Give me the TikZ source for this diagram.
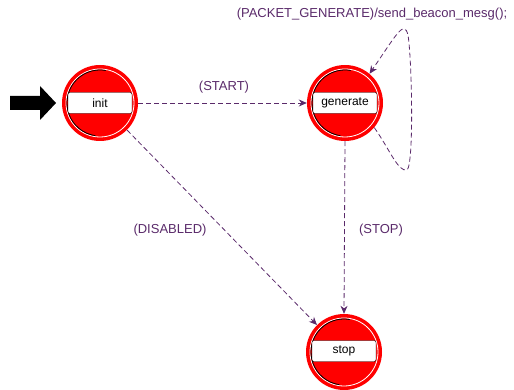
\documentclass[tikz,border=0pt]{standalone}
\usepackage{fontspec}
\setmainfont{Liberation Sans}
\usetikzlibrary{arrows.meta}
\definecolor{trpurple}{HTML}{5A2A6A}
\definecolor{stred}{HTML}{FF0000}
\tikzset{
  x=1pt,y=-1pt,
  statecirc/.style={circle,fill=stred,minimum size=76pt,inner sep=0pt},
  statebox/.style={draw=black,fill=white,rounded corners=2pt,minimum width=64pt,minimum height=21pt,inner sep=0pt,font=\fontsize{12}{13}\selectfont},
  trans/.style={draw=trpurple,dashed,dash pattern=on 5pt off 3pt,line width=0.8pt,-{Stealth[length=8pt,width=7pt]}},
  translabel/.style={text=trpurple,font=\fontsize{13}{15}\selectfont,inner sep=1pt}
}
\newcommand{\statedeco}[1]{%
  \draw[white,line width=0.8pt] (#1) circle[radius=34pt];
  \draw[black,line width=0.8pt] (#1)++(80:33pt) arc[start angle=80,end angle=262,radius=33pt];
}
\begin{document}
\begin{tikzpicture}
\useasboundingbox (0,0) rectangle (514,390);
\node[statecirc] (init) at (100,103) {};
\node[statecirc] (gen) at (345,103) {};
\node[statecirc] (stop) at (344,352) {};
\statedeco{init}
\statedeco{gen}
\statedeco{stop}
\node[statebox] (initl) at (100,103) {init};
\node[statebox] (genl) at (345,103) {generate};
\node[statebox] (stopl) at (344,351) {stop};
% initial arrow
\fill[black] (10,96) -- (40,96) -- (40,86) -- (56,103) -- (40,120) -- (40,110) -- (10,110) -- cycle;
% transitions
\draw[trans] (init.east) -- (gen.west);
\draw[trans] (init.-45) -- (stop.135);
\draw[trans] (gen.south) -- (stop.north);
\draw[trans] (gen.-40) .. controls (390,150) and (398,172) .. (407,170) .. controls (414,165) and (412,60) .. (408,35) .. controls (404,20) and (398,32) .. (gen.50);
\node[translabel] (l1) at (224,87) {(START)};
\node[translabel] (l2) at (170,230) {(DISABLED)};
\node[translabel] (l3) at (381,230) {(STOP)};
\node[translabel] (l4) at (372,14) {(PACKET\_GENERATE)/send\_beacon\_mesg();};
\end{tikzpicture}
\end{document}
